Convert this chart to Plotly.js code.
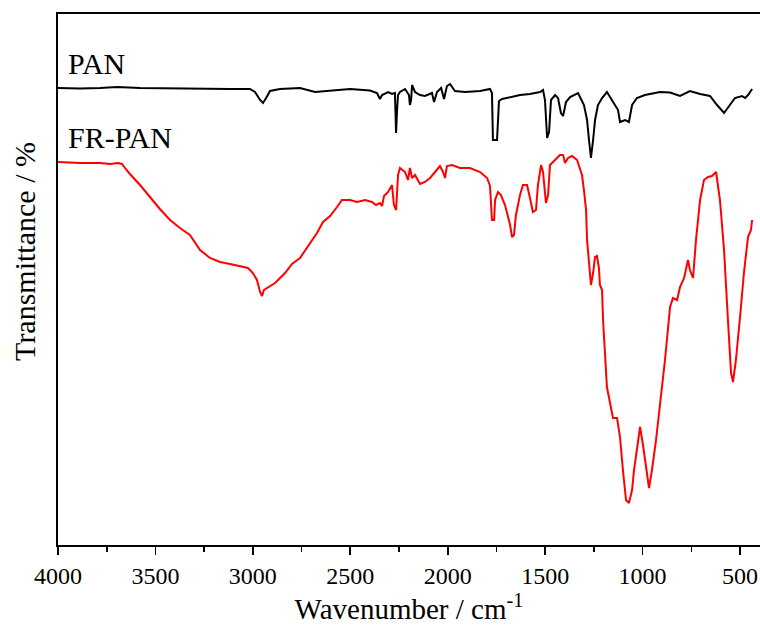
<!DOCTYPE html>
<html>
<head>
<meta charset="utf-8">
<script src="https://cdn.plot.ly/plotly-3.0.1.min.js"></script>
<style>
  html, body { margin: 0; padding: 0; background: #fff; }
  #chart { width: 760px; height: 629px; }
</style>
</head>
<body>
<div id="chart"></div>
<script>
// FTIR spectra: wavenumber (cm-1) and transmittance (offset, arbitrary scale)
const panWavenumber = [4000, 3887, 3784, 3697, 3579, 3425, 3256, 3117, 3015, 2989, 2963, 2948, 2932, 2912, 2861, 2758, 2681, 2655, 2501, 2399, 2363, 2348, 2337, 2306, 2286, 2271, 2265, 2260, 2255, 2245, 2219, 2199, 2194, 2188, 2183, 2168, 2142, 2117, 2081, 2070, 2055, 2034, 2019, 2004, 1988, 1963, 1911, 1834, 1783, 1773, 1768, 1747, 1737, 1721, 1680, 1629, 1578, 1526, 1511, 1501, 1490, 1480, 1470, 1449, 1434, 1419, 1408, 1393, 1372, 1331, 1301, 1285, 1275, 1265, 1254, 1244, 1229, 1208, 1183, 1157, 1126, 1116, 1090, 1070, 1054, 1029, 988, 962, 911, 859, 808, 757, 705, 654, 639, 618, 582, 551, 526, 490, 474, 459, 438];
const panTransmittance = [91.4, 91.3, 91.4, 91.6, 91.4, 91.3, 91.3, 91.2, 91.2, 90.6, 89.0, 88.4, 89.4, 90.8, 91.2, 91.4, 90.6, 90.7, 91.2, 90.9, 90.4, 89.2, 90.0, 90.6, 90.2, 90.4, 82.4, 87.0, 90.0, 90.6, 91.2, 90.0, 88.0, 89.0, 92.0, 90.6, 90.0, 89.8, 90.4, 88.6, 90.6, 91.4, 89.2, 91.8, 92.2, 90.8, 90.6, 90.8, 91.2, 90.4, 81.0, 81.0, 88.8, 89.2, 89.6, 90.0, 90.2, 90.6, 91.0, 89.0, 81.4, 82.6, 89.0, 90.0, 89.4, 86.4, 85.8, 88.6, 89.6, 90.4, 88.0, 85.0, 81.0, 77.4, 81.0, 85.0, 88.0, 89.4, 90.6, 89.0, 87.0, 84.6, 85.0, 84.6, 88.0, 89.4, 90.0, 90.2, 90.6, 90.5, 89.8, 90.8, 90.2, 89.8, 89.0, 88.0, 86.4, 88.0, 89.4, 89.8, 89.4, 90.0, 91.2];

const frpanWavenumber = [4000, 3887, 3784, 3733, 3692, 3672, 3656, 3631, 3579, 3528, 3477, 3425, 3374, 3323, 3297, 3271, 3220, 3169, 3117, 3066, 3025, 3000, 2979, 2963, 2953, 2943, 2927, 2886, 2835, 2799, 2758, 2707, 2671, 2640, 2604, 2568, 2543, 2501, 2466, 2424, 2389, 2368, 2348, 2337, 2327, 2306, 2286, 2276, 2265, 2255, 2245, 2219, 2204, 2194, 2183, 2168, 2142, 2117, 2091, 2065, 2040, 2024, 2014, 2004, 1978, 1937, 1886, 1834, 1798, 1783, 1778, 1773, 1762, 1757, 1742, 1727, 1706, 1691, 1680, 1670, 1660, 1650, 1629, 1614, 1593, 1578, 1563, 1547, 1537, 1521, 1511, 1496, 1485, 1475, 1460, 1439, 1424, 1408, 1398, 1383, 1362, 1336, 1321, 1311, 1301, 1290, 1285, 1270, 1265, 1254, 1244, 1234, 1224, 1219, 1208, 1203, 1193, 1183, 1167, 1152, 1131, 1116, 1100, 1085, 1070, 1054, 1044, 1029, 1013, 998, 982, 967, 952, 931, 911, 885, 859, 844, 823, 808, 787, 767, 757, 741, 726, 705, 685, 664, 644, 623, 603, 582, 562, 546, 536, 521, 500, 480, 459, 444, 438];
const frpanTransmittance = [76.6, 76.4, 76.4, 76.2, 76.4, 76.2, 75.4, 74.2, 72.0, 69.6, 67.2, 65.0, 63.4, 62.0, 60.4, 59.0, 57.4, 56.6, 56.2, 55.8, 55.4, 54.4, 53.0, 50.6, 49.8, 51.0, 51.4, 52.4, 54.4, 56.2, 57.4, 60.4, 62.4, 64.6, 65.8, 67.6, 69.0, 69.0, 68.6, 69.0, 68.6, 68.0, 68.4, 67.8, 69.8, 70.6, 72.0, 68.0, 67.0, 74.0, 75.4, 74.6, 73.0, 75.4, 73.4, 74.0, 72.2, 72.6, 73.4, 74.6, 75.8, 74.6, 73.4, 75.8, 76.0, 75.4, 75.4, 74.6, 73.4, 71.8, 68.0, 65.0, 65.0, 69.0, 70.6, 70.0, 68.0, 66.0, 64.0, 61.6, 62.0, 66.0, 70.0, 72.0, 72.0, 69.4, 66.6, 67.0, 72.0, 76.0, 74.6, 68.4, 70.0, 76.0, 76.6, 77.4, 78.0, 78.0, 76.4, 77.4, 77.8, 77.0, 75.4, 74.0, 71.0, 67.0, 61.0, 55.0, 52.0, 54.4, 57.6, 57.8, 55.4, 52.0, 51.0, 45.0, 37.6, 31.6, 28.4, 25.4, 25.4, 21.6, 14.6, 9.0, 8.4, 11.0, 15.0, 19.0, 23.6, 20.0, 15.0, 11.4, 15.0, 21.0, 28.0, 37.0, 47.6, 49.4, 49.0, 51.6, 53.4, 57.0, 55.0, 53.4, 61.0, 69.0, 73.0, 73.6, 73.8, 74.6, 69.0, 59.0, 45.0, 34.4, 32.6, 37.0, 45.6, 54.4, 61.6, 63.0, 65.0];

const seriesNames = ["PAN", "FR-PAN"];
const seriesColors = ["#000000", "#ff0000"];
const xTickValues = [4000, 3500, 3000, 2500, 2000, 1500, 1000, 500];

const serif = "Liberation Serif";

const traces = [
  { x: panWavenumber, y: panTransmittance, name: seriesNames[0], mode: "lines",
    line: { color: seriesColors[0], width: 2 }, hoverinfo: "skip" },
  { x: frpanWavenumber, y: frpanTransmittance, name: seriesNames[1], mode: "lines",
    line: { color: seriesColors[1], width: 2 }, hoverinfo: "skip" }
];

const layout = {
  width: 760, height: 629,
  margin: { l: 58, r: 0, t: 14, b: 84 },
  paper_bgcolor: "#ffffff", plot_bgcolor: "#ffffff",
  showlegend: false,
  font: { family: serif, size: 22, color: "#000000" },
  xaxis: {
    range: [4000, 397.5],
    tickmode: "array", tickvals: xTickValues, ticktext: xTickValues.map(String),
    ticks: "outside", ticklen: 8, tickwidth: 1.6, tickcolor: "#000",
    minor: { dtick: 250, tick0: 0, ticks: "outside", ticklen: 5, tickwidth: 1.6, tickcolor: "#000", showgrid: false },
    showline: true, linecolor: "#000", linewidth: 2, mirror: true,
    showgrid: false, zeroline: false,
    tickfont: { family: serif, size: 24, color: "#000000" },
    title: { text: "Wavenumber / cm<sup>-1</sup>", font: { family: serif, size: 29, color: "#000000" }, standoff: 4 },
    automargin: false
  },
  yaxis: {
    range: [0, 106.2],
    showticklabels: false, ticks: "",
    showline: true, linecolor: "#000", linewidth: 2, mirror: false,
    showgrid: false, zeroline: false,
    automargin: false
  },
  annotations: [
    { x: 3960, y: 96.4, xref: "x", yref: "y", text: seriesNames[0], showarrow: false,
      xanchor: "left", yanchor: "middle", font: { family: serif, size: 30, color: "#000000" } },
    { x: 3960, y: 81.6, xref: "x", yref: "y", text: seriesNames[1], showarrow: false,
      xanchor: "left", yanchor: "middle", font: { family: serif, size: 30, color: "#000000" } },
    // y-axis title, set slightly above the plot's mid-height
    { x: -0.047, y: 0.552, xref: "paper", yref: "paper", text: "Transmittance / %", showarrow: false,
      textangle: -90, xanchor: "center", yanchor: "middle", font: { family: serif, size: 30, color: "#000000" } }
  ]
};

Plotly.newPlot("chart", traces, layout, { staticPlot: true, displayModeBar: false });
</script>
</body>
</html>
